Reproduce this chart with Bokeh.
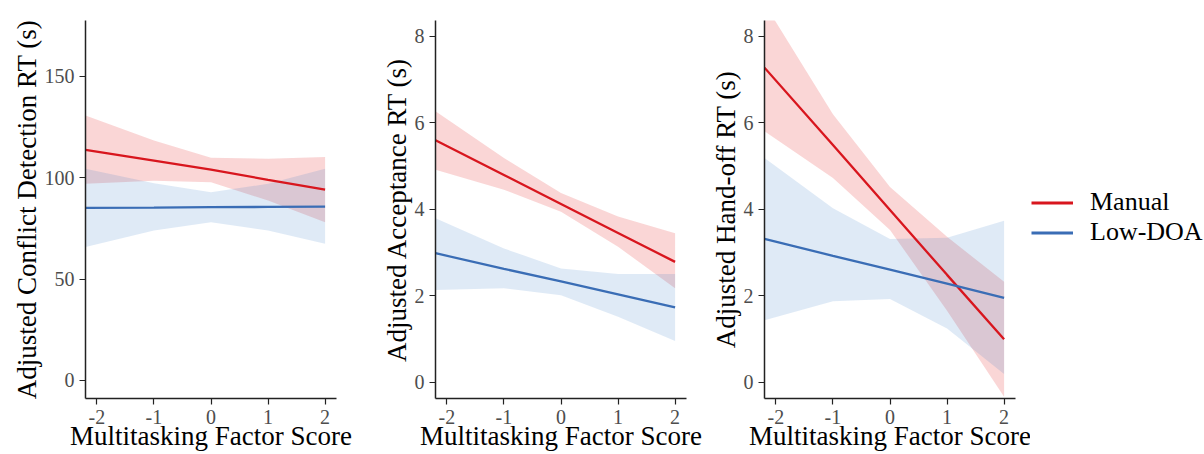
from bokeh.plotting import figure
from bokeh.layouts import row
from bokeh.models import Range1d, FixedTicker, Legend, LegendItem
from bokeh.embed import file_html
from bokeh.resources import INLINE

# Multitasking factor score positions where the model estimates are given
x_pts = [-2.2, -1, 0, 1, 2]
x_ticks = [-2, -1, 0, 1, 2]

# Conflict detection RT (s)
cd_manual_fit = [113.8, 108.5, 104.0, 99.0, 94.1]
cd_manual_lo = [97.0, 98.5, 97.8, 88.8, 78.1]
cd_manual_hi = [130.7, 118.4, 109.9, 109.4, 110.2]
cd_low_fit = [85.2, 85.3, 85.5, 85.6, 85.8]
cd_low_lo = [65.8, 74.0, 78.1, 74.0, 67.4]
cd_low_hi = [104.4, 97.3, 92.9, 97.0, 104.4]
cd_ticks = [0, 50, 100, 150]

# Acceptance RT (s)
acc_manual_fit = [5.59, 4.79, 4.12, 3.45, 2.78]
acc_manual_lo = [4.91, 4.45, 3.94, 3.13, 2.17]
acc_manual_hi = [6.26, 5.18, 4.37, 3.83, 3.44]
acc_low_fit = [2.98, 2.62, 2.33, 2.03, 1.73]
acc_low_lo = [2.13, 2.17, 2.01, 1.51, 0.95]
acc_low_hi = [3.79, 3.09, 2.63, 2.50, 2.50]

# Hand-off RT (s)
ho_manual_fit = [7.27, 5.48, 3.98, 2.48, 0.99]
ho_manual_lo = [5.80, 4.72, 3.52, 1.65, -0.34]
ho_manual_hi = [8.75, 6.19, 4.51, 3.36, 2.32]
ho_low_fit = [3.31, 2.92, 2.60, 2.28, 1.95]
ho_low_lo = [1.43, 1.87, 1.92, 1.24, 0.19]
ho_low_hi = [5.18, 4.02, 3.31, 3.34, 3.73]
rt_ticks = [0, 2, 4, 6, 8]

groups = ["Manual", "Low-DOA"]

RED = "#D8161E"
BLUE = "#3A6DB5"
RED_FILL = "#E41A1C"
BLUE_FILL = "#3A7DC9"
FONT = "Liberation Serif"


def make_panel(width, left, right, y_range, y_ticks, y_label, manual, low):
    p = figure(width=width, height=454, output_backend="svg", toolbar_location=None,
               x_range=Range1d(-2.2, 2.2), y_range=Range1d(*y_range),
               min_border_left=left, min_border_right=right,
               min_border_top=20, min_border_bottom=56)
    p.outline_line_color = None
    p.xgrid.visible = False
    p.ygrid.visible = False

    for (fit, lo, hi), fill_c, alpha in ((manual, RED_FILL, 0.18),
                                         (low, BLUE_FILL, 0.16)):
        p.varea(x=x_pts, y1=lo, y2=hi, fill_color=fill_c, fill_alpha=alpha)
    for (fit, lo, hi), line_c in ((manual, RED), (low, BLUE)):
        p.line(x=x_pts, y=fit, line_color=line_c, line_width=2.3)

    p.xaxis.ticker = FixedTicker(ticks=x_ticks)
    p.yaxis.ticker = FixedTicker(ticks=y_ticks)
    # plain hyphen-minus on negative ticks
    p.xaxis.major_label_overrides = {t: str(t) for t in x_ticks}
    p.xaxis.axis_label = "Multitasking Factor Score"
    p.yaxis.axis_label = y_label
    for ax in (p.xaxis, p.yaxis):
        ax.axis_line_color = "#222222"
        ax.axis_line_width = 1.5
        ax.major_tick_line_color = "#222222"
        ax.major_tick_line_width = 1.2
        ax.major_tick_out = 6
        ax.major_tick_in = 0
        ax.minor_tick_out = 0
        ax.minor_tick_in = 0
        ax.major_label_text_font = FONT
        ax.major_label_text_font_size = "20px"
        ax.major_label_text_color = "#4D4D4D"
        ax.axis_label_text_font = FONT
        ax.axis_label_text_font_size = "27px"
        ax.axis_label_text_font_style = "normal"
        ax.axis_label_text_color = "black"
    p.yaxis.major_label_standoff = 5
    p.yaxis.axis_label_standoff = 0
    p.xaxis.major_label_standoff = 5
    p.xaxis.axis_label_standoff = -6
    return p


p1 = make_panel(355, 85, 19, (-8.9, 177.6), cd_ticks,
                "Adjusted Conflict Detection RT (s)",
                (cd_manual_fit, cd_manual_lo, cd_manual_hi),
                (cd_low_fit, cd_low_lo, cd_low_hi))
p2 = make_panel(349, 80, 18, (-0.378, 8.36), rt_ticks,
                "Adjusted Acceptance RT (s)",
                (acc_manual_fit, acc_manual_lo, acc_manual_hi),
                (acc_low_fit, acc_low_lo, acc_low_hi))
p3 = make_panel(326, 60, 15, (-0.378, 8.36), rt_ticks,
                "Adjusted Hand-off RT (s)",
                (ho_manual_fit, ho_manual_lo, ho_manual_hi),
                (ho_low_fit, ho_low_lo, ho_low_hi))

# Legend panel: key renderers carry only the group line styles
pl = figure(width=174, height=454, output_backend="svg", toolbar_location=None,
            min_border=0, x_range=Range1d(0, 1), y_range=Range1d(0, 1))
pl.axis.visible = False
pl.grid.visible = False
pl.outline_line_color = None
nan = float("nan")
keys = [pl.line(x=[nan, nan], y=[nan, nan], line_color=c, line_width=3)
        for c in (RED, BLUE)]
legend = Legend(items=[LegendItem(label=g, renderers=[r]) for g, r in zip(groups, keys)],
                location=(1, 151), orientation="vertical")
legend.border_line_color = None
legend.background_fill_alpha = 0
legend.margin = 0
legend.padding = 0
legend.spacing = -5
legend.glyph_width = 42
legend.glyph_height = 27
legend.label_height = 27
legend.label_standoff = 17
legend.label_text_font = FONT
legend.label_text_font_size = "26px"
legend.label_text_color = "black"
pl.add_layout(legend)

layout = row(p1, p2, p3, pl)
open("out.html", "w").write(file_html(layout, INLINE))
